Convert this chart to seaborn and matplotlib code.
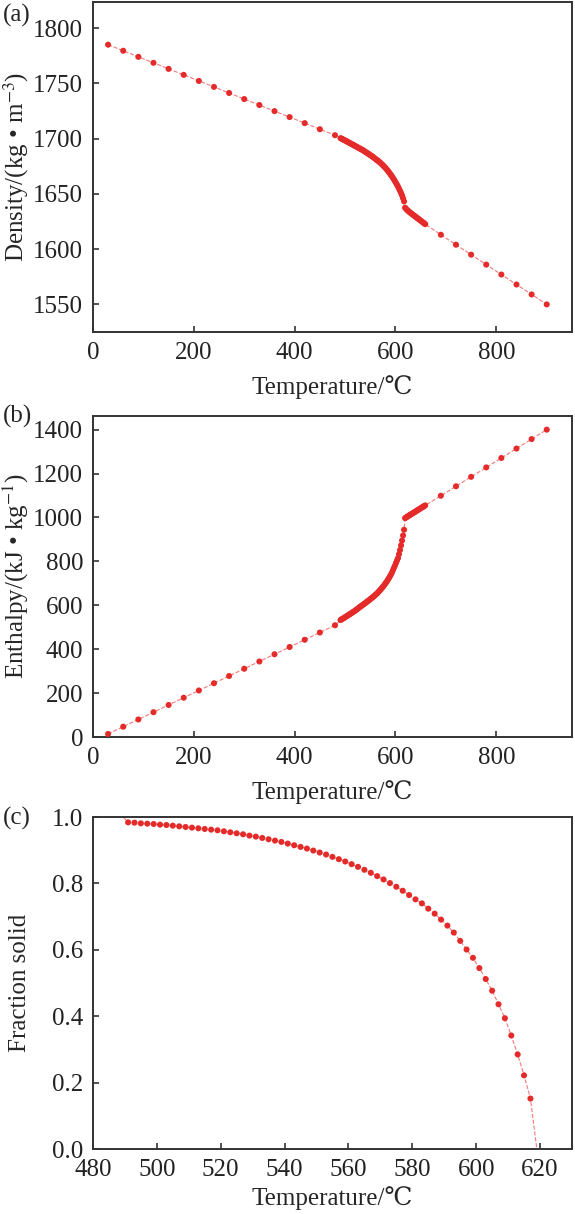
import numpy as np
import pandas as pd
import matplotlib
matplotlib.use("Agg")
import matplotlib.pyplot as plt
import seaborn as sns

# solid (sparse), mushy (dense), liquid near liquidus (dense), liquid (sparse)
temp_solid = [30, 60, 90, 120, 150, 180, 210, 240, 270, 300, 330, 360, 390, 420, 450, 480]
temp_mushy = [491, 493, 495, 497, 499, 501, 503, 505, 507, 509, 511, 513, 515, 517, 519,
              521, 523, 525, 527, 529, 531, 533, 535, 537, 539, 541, 543, 545, 547, 549,
              551, 553, 555, 557, 559, 561, 563, 565, 567, 569, 571, 573, 575, 577, 579,
              581, 583, 585, 587, 589, 591, 593, 595, 597, 599, 601, 603, 605, 607, 609,
              611, 613, 615, 617]
temp_liq_dense = [619, 621, 623, 625, 627, 629, 631, 633, 635, 637, 639, 641, 643, 645,
                  647, 649, 651, 653, 655, 657, 659]
temp_liq = [690, 720, 750, 780, 810, 840, 870, 900]

dens_solid = [1785.0, 1779.5, 1774.0, 1768.6, 1763.1, 1757.7, 1752.2, 1746.8, 1741.3,
              1735.8, 1730.4, 1724.9, 1719.5, 1714.0, 1708.5, 1703.1]
dens_mushy = [1700.4, 1700.0, 1699.5, 1699.0, 1698.5, 1698.1, 1697.6, 1697.1, 1696.6, 1696.1,
              1695.6, 1695.1, 1694.6, 1694.1, 1693.6, 1693.1, 1692.6, 1692.1, 1691.6, 1691.1,
              1690.6, 1690.1, 1689.6, 1689.0, 1688.4, 1687.8, 1687.2, 1686.6, 1686.0, 1685.4,
              1684.8, 1684.2, 1683.5, 1682.8, 1682.1, 1681.4, 1680.7, 1680.0, 1679.3, 1678.5,
              1677.7, 1676.8, 1675.9, 1675.0, 1674.0, 1673.0, 1671.9, 1670.8, 1669.6, 1668.4,
              1667.1, 1665.8, 1664.4, 1663.0, 1661.5, 1659.9, 1658.3, 1656.6, 1654.7, 1652.8,
              1650.8, 1648.6, 1646.0, 1643.2]
dens_liq_dense = [1637.5, 1636.4, 1635.5, 1634.7, 1633.9, 1633.1, 1632.4, 1631.7, 1631.0,
                  1630.3, 1629.6, 1628.9, 1628.2, 1627.5, 1626.8, 1626.1, 1625.4, 1624.7,
                  1624.0, 1623.3, 1622.6]
dens_liq = [1613.0, 1604.0, 1595.0, 1586.0, 1577.0, 1568.0, 1559.0, 1550.0]

enth_solid = [14, 47, 80, 113, 146, 179, 212, 245, 278, 311, 344, 377, 410, 443, 476, 509]
enth_mushy = [533, 536, 539, 541, 544, 547, 550, 553, 556, 559, 562, 565, 568, 571, 574,
              577, 581, 584, 588, 592, 595, 598, 602, 605, 608, 612, 616, 619, 622, 626,
              630, 633, 637, 641, 645, 649, 653, 658, 663, 668, 673, 679, 684, 690, 696,
              703, 709, 717, 724, 732, 740, 749, 760, 771, 781, 793, 804, 815, 833, 852,
              873, 895, 918, 944]
enth_liq_dense = [997, 1000, 1003, 1006, 1009, 1012, 1014.5, 1017.5, 1020.5, 1023, 1026,
                  1029, 1032, 1035, 1037.5, 1040.5, 1043.5, 1046.5, 1049, 1052, 1055]
enth_liq = [1099, 1142, 1185, 1228, 1271, 1314, 1357, 1400]

frac_solid = [0.984, 0.983, 0.981, 0.980, 0.979, 0.977, 0.976, 0.974, 0.972, 0.970,
              0.968, 0.966, 0.964, 0.962, 0.960, 0.957, 0.954, 0.951, 0.948, 0.944,
              0.941, 0.937, 0.933, 0.929, 0.925, 0.920, 0.915, 0.910, 0.905, 0.899,
              0.893, 0.887, 0.880, 0.873, 0.866, 0.858, 0.850, 0.841, 0.832, 0.822,
              0.812, 0.801, 0.790, 0.778, 0.765, 0.752, 0.740, 0.724, 0.709, 0.691,
              0.673, 0.652, 0.627, 0.601, 0.576, 0.545, 0.512, 0.477, 0.436, 0.394,
              0.342, 0.285, 0.222, 0.152]
solidus_T, liquidus_T = 489.5, 619.0

RED = "#e52a2a"
LINE = "#f27a7a"

sns.set_style("ticks")
plt.rcParams["font.family"] = ["Liberation Serif", "DejaVu Serif"]
plt.rcParams["mathtext.fontset"] = "stix"
plt.rcParams["font.size"] = 18
plt.rcParams["axes.edgecolor"] = "#333333"
plt.rcParams["axes.linewidth"] = 1.4
plt.rcParams["xtick.direction"] = "in"
plt.rcParams["ytick.direction"] = "in"

all_T = temp_solid + temp_mushy + temp_liq_dense + temp_liq
df_a = pd.DataFrame({"T": all_T, "v": dens_solid + dens_mushy + dens_liq_dense + dens_liq})
df_b = pd.DataFrame({"T": all_T, "v": enth_solid + enth_mushy + enth_liq_dense + enth_liq})
df_c = pd.DataFrame({"T": temp_mushy, "v": frac_solid})
df_c_line = pd.DataFrame({"T": [solidus_T] + temp_mushy + [liquidus_T],
                          "v": [1.0] + frac_solid + [0.0]})

fig = plt.figure(figsize=(5.75, 12.14), dpi=100)
ax_a = fig.add_axes([0.1617, 0.7265, 0.833, 0.2722])
ax_b = fig.add_axes([0.1617, 0.3929, 0.833, 0.2644])
ax_c = fig.add_axes([0.1617, 0.0535, 0.833, 0.2735])


def draw(ax, line_df, pts_df):
    sns.lineplot(data=line_df, x="T", y="v", ax=ax, sort=False, estimator=None,
                 color=LINE, linewidth=0.8, linestyle="--")
    sns.scatterplot(data=pts_df, x="T", y="v", ax=ax, color=RED, s=19,
                    edgecolor="none", zorder=3)
    ax.tick_params(length=4, width=1.1, pad=7, labelsize=18, colors="#222222",
                   top=False, right=False)
    for sp in ax.spines.values():
        sp.set_visible(True)
    ax.set_xlabel("Temperature/℃", fontsize=18, labelpad=8)


draw(ax_a, df_a, df_a)
ax_a.set_xlim(0, 950)
ax_a.set_ylim(1525, 1824)
ax_a.set_xticks([0, 200, 400, 600, 800])
ax_a.set_yticks([1550, 1600, 1650, 1700, 1750, 1800])
ax_a.set_ylabel("Density/(kg • m$^{-3}$)", fontsize=18)

draw(ax_b, df_b, df_b)
ax_b.set_xlim(0, 950)
ax_b.set_ylim(0, 1462)
ax_b.set_xticks([0, 200, 400, 600, 800])
ax_b.set_yticks([0, 200, 400, 600, 800, 1000, 1200, 1400])
ax_b.set_ylabel("Enthalpy/(kJ • kg$^{-1}$)", fontsize=18)

draw(ax_c, df_c_line, df_c)
ax_c.set_xlim(480, 630)
ax_c.set_ylim(0, 1.0)
ax_c.set_xticks([480, 500, 520, 540, 560, 580, 600, 620])
ax_c.set_yticks([0.0, 0.2, 0.4, 0.6, 0.8, 1.0])
ax_c.set_yticklabels(["0.0", "0.2", "0.4", "0.6", "0.8", "1.0"])
ax_c.set_ylabel("Fraction solid", fontsize=18)
ax_c.xaxis.labelpad = 4

# put all y labels at the same distance from the left spine
for ax in (ax_a, ax_b, ax_c):
    ax.yaxis.set_label_coords(-0.13, 0.5)

for label, ypix in [("(a)", 15), ("(b)", 416), ("(c)", 818)]:
    fig.text(3 / 575, 1 - ypix / 1214, label, fontsize=18, ha="left", va="center")

fig.savefig("out.png", dpi=100)
